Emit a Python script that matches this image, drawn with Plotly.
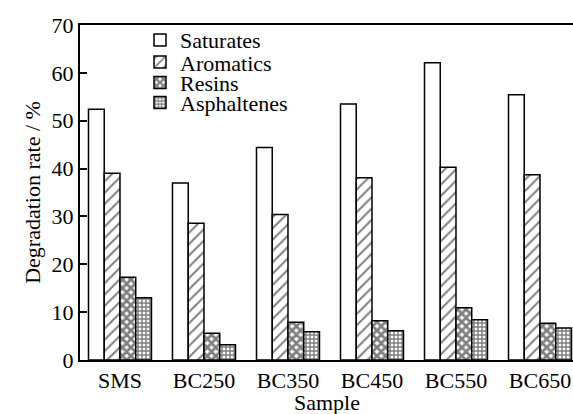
import plotly.graph_objects as go

samples = ["SMS", "BC250", "BC350", "BC450", "BC550", "BC650"]
saturates = [52.4, 37.0, 44.4, 53.5, 62.1, 55.4]
aromatics = [39.0, 28.6, 30.4, 38.1, 40.3, 38.7]
resins = [17.3, 5.6, 7.9, 8.2, 10.9, 7.7]
asphaltenes = [13.0, 3.2, 5.9, 6.1, 8.4, 6.7]
names = ["Saturates", "Aromatics", "Resins", "Asphaltenes"]

patterns = [
    dict(shape="", fgcolor="black", bgcolor="white"),
    dict(shape="/", size=8, solidity=0.25, fgcolor="black", bgcolor="white"),
    dict(shape="x", size=6, solidity=0.7, fgcolor="black", bgcolor="white"),
    dict(shape="+", size=4, solidity=0.6, fgcolor="black", bgcolor="white"),
]
legend_ids = ["legend", "legend2", "legend3", "legend4"]
legend_y = [0.955, 0.889, 0.828, 0.768]

fig = go.Figure()
for name, vals, pat, lid in zip(names, [saturates, aromatics, resins, asphaltenes], patterns, legend_ids):
    fig.add_trace(go.Bar(
        x=samples, y=vals, name=name, legend=lid,
        marker=dict(color="white", line=dict(color="black", width=1.5), pattern=pat),
    ))

FAM = "Liberation Serif, Times New Roman, serif"
font = dict(family=FAM, size=22, color="black")

layout_legends = {}
for lid, ly in zip(legend_ids, legend_y):
    layout_legends[lid] = dict(
        x=0.1217, y=ly, xanchor="left", yanchor="middle",
        bgcolor="rgba(0,0,0,0)", borderwidth=0,
        font=dict(family=FAM, size=22, color="black"),
    )

fig.update_layout(
    width=573, height=414,
    margin=dict(l=80, r=0, t=25, b=54),
    paper_bgcolor="white", plot_bgcolor="white",
    barmode="group", bargap=0.25, bargroupgap=0,
    font=font,
    showlegend=True,
    xaxis=dict(
        range=[-0.476, 5.393], showline=True, linecolor="black", linewidth=2,
        mirror=True, ticks="", showgrid=False, zeroline=False,
        tickfont=font,
    ),
    yaxis=dict(
        range=[0, 70], dtick=10, showline=True, linecolor="black", linewidth=2,
        ticks="inside", ticklen=7, tickwidth=1.5, tickcolor="black",
        showgrid=False, zeroline=False,
        title=dict(text="Degradation rate / %", standoff=5, font=font),
        tickfont=font,
    ),
    annotations=[dict(
        text="Sample", xref="paper", yref="paper", x=0.5, y=-0.1254,
        xanchor="center", yanchor="middle", showarrow=False, font=font,
    )],
    **layout_legends,
)

fig.write_html(
    "out.html",
    config={"displayModeBar": False},
    post_script="document.body.style.margin='0';document.body.style.overflow='hidden';",
)
